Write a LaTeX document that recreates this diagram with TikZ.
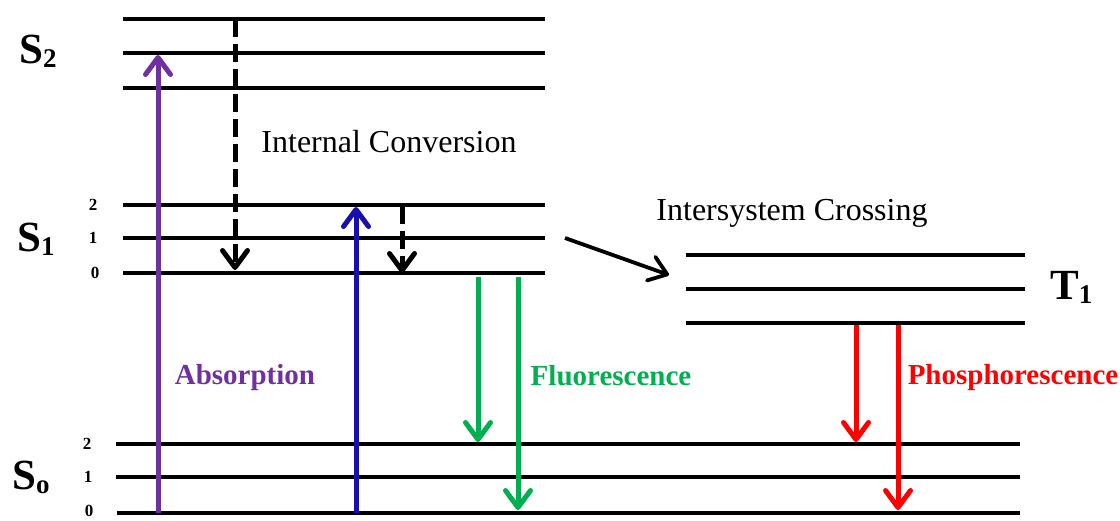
\documentclass[tikz,border=0pt]{standalone}
\usepackage{fontspec}
\setmainfont{Liberation Serif}
\usetikzlibrary{arrows.meta}
\definecolor{abspurple}{RGB}{112,48,160}
\definecolor{absblue}{RGB}{25,15,175}
\definecolor{flgreen}{RGB}{0,176,80}
\definecolor{phred}{RGB}{255,0,0}
\newcommand{\lowsub}[1]{\raisebox{-4pt}{\fontsize{27}{30}\selectfont #1}}
\tikzset{
  level/.style={line width=3.8pt},
  tip/.style={-{Straight Barb[length=17pt,width=25pt,line cap=round,line join=round]}},
  trans/.style={tip,line width=5pt},
  dashtrans/.style={tip,line width=5pt,dash pattern=on 18pt off 7pt},
  statelbl/.style={font=\fontsize{43}{46}\selectfont\bfseries,inner sep=0pt},
  vlbl/.style={font=\fontsize{17}{19}\selectfont\bfseries,inner sep=0pt},
  plainlbl/.style={font=\fontsize{32}{36}\selectfont,inner sep=0pt},
  boldlbl/.style={font=\fontsize{29}{32}\selectfont\bfseries,inner sep=0pt},
}
\begin{document}
\begin{tikzpicture}[x=1pt,y=-1pt]
\useasboundingbox (0,0) rectangle (1120,520);
% S2 levels
\draw[level] (123,19) -- (545,19);
\draw[level] (123,53) -- (545,53);
\draw[level] (123,88) -- (545,88);
% S1 levels
\draw[level] (123,205) -- (545,205);
\draw[level] (123,238) -- (545,238);
\draw[level] (123,273) -- (545,273);
% T1 levels
\draw[level] (686,255) -- (1025,255);
\draw[level] (686,289) -- (1025,289);
\draw[level] (686,323) -- (1025,323);
% S0 levels
\draw[level] (116,444) -- (1020,444);
\draw[level] (116,477) -- (1020,477);
\draw[level] (117,513) -- (1020,513);

% state labels
\node[statelbl,anchor=base west] (s2) at (19,63) {S\lowsub{2}};
\node[statelbl,anchor=base west] (s1) at (17,251) {S\lowsub{1}};
\node[statelbl,anchor=base west] (s0) at (12,489) {S\lowsub{o}};
\node[statelbl,anchor=base west] (t1) at (1050,299) {T\lowsub{1}};
% vibrational labels
\node[vlbl] (v12) at (93,205) {2};
\node[vlbl] (v11) at (93,238) {1};
\node[vlbl] (v10) at (95,273) {0};
\node[vlbl] (v02) at (87,444) {2};
\node[vlbl] (v01) at (88,477) {1};
\node[vlbl] (v00) at (89,511) {0};

% transition endpoints
\coordinate (absA) at (158,513); \coordinate (absB) at (158,55);
\coordinate (blA) at (356,513); \coordinate (blB) at (356,207);
\coordinate (icA) at (235,19); \coordinate (icB) at (235,270);
\coordinate (vrA) at (402,206); \coordinate (vrB) at (402,273);
\coordinate (fl1A) at (478,277); \coordinate (fl1B) at (478,442);
\coordinate (fl2A) at (518,277); \coordinate (fl2B) at (518,510);
\coordinate (ph1A) at (856,325); \coordinate (ph1B) at (856,442);
\coordinate (ph2A) at (898,325); \coordinate (ph2B) at (898,510);
\coordinate (iscA) at (565,238); \coordinate (iscB) at (669,275);

\draw[trans,abspurple] (absA) -- (absB);
\draw[trans,absblue] (blA) -- (blB);
\draw[dashtrans,black] (icA) -- (icB);
\draw[dashtrans,black] (vrA) -- (vrB);
\draw[trans,flgreen] (fl1A) -- (fl1B);
\draw[trans,flgreen] (fl2A) -- (fl2B);
\draw[trans,phred] (ph1A) -- (ph1B);
\draw[trans,phred] (ph2A) -- (ph2B);
\draw[tip,line width=3.8pt,black] (iscA) -- (iscB);

% process labels
\node[plainlbl] (ic) at (389,142) {Internal Conversion};
\node[plainlbl] (isc) at (792,213) {Intersystem Crossing};
\node[boldlbl,abspurple] (absl) at (245,378) {Absorption};
\node[boldlbl,flgreen] (fll) at (611,376) {Fluorescence};
\node[boldlbl,phred] (phl) at (1013,378) {Phosphorescence};
\end{tikzpicture}
\end{document}
